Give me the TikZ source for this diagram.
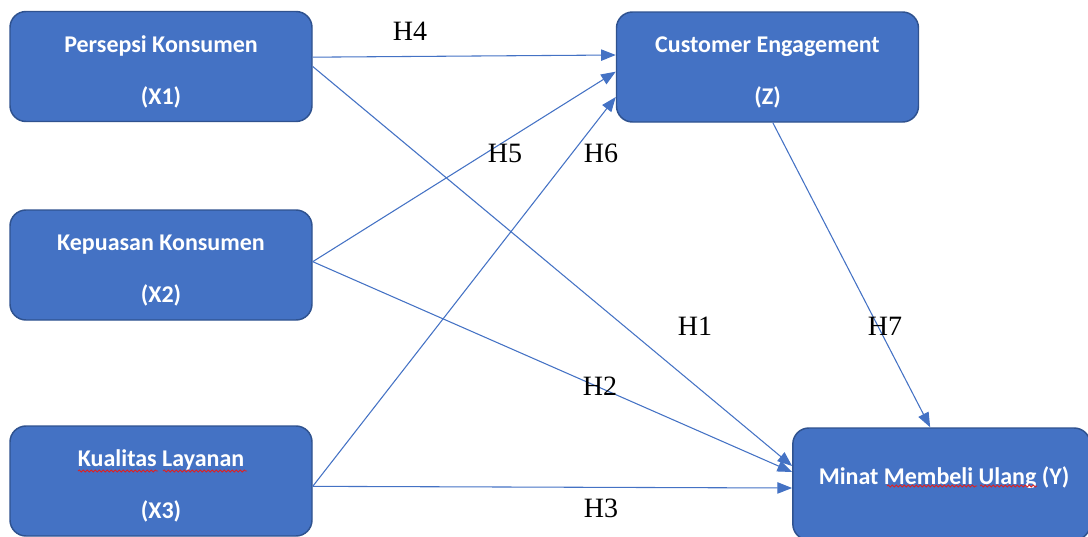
\documentclass[tikz,border=0pt]{standalone}
\usepackage{fontspec}
\setmainfont{Liberation Serif}
\newfontfamily\boxfont{Carlito}
\usetikzlibrary{arrows.meta,decorations.pathmorphing}
\definecolor{boxfill}{HTML}{4472C4}
\definecolor{boxline}{HTML}{2F528F}
\definecolor{arrowcol}{HTML}{4472C4}
\definecolor{spell}{HTML}{E02020}
\newcommand{\topstrut}{\rule{0pt}{20pt}}
\begin{document}
\begin{tikzpicture}[x=0.75pt,y=-0.75pt,
  varbox/.style={draw=boxline, line width=1.1pt, fill=boxfill, rounded corners=12pt,
    minimum width=226.5pt, minimum height=82.5pt, inner sep=0pt, text=white,
    font=\boxfont\bfseries\fontsize{18}{39}\selectfont, align=center},
  boxtext/.style={text=white, font=\boxfont\bfseries\fontsize{18}{21}\selectfont, inner sep=0pt},
  hyp/.style={font=\fontsize{21}{25}\selectfont, inner sep=0pt, text=black},
  link/.style={draw=arrowcol, line width=0.8pt, -{Triangle[length=11pt,width=8.5pt]}},
  spellmark/.style={draw=spell, line width=0.6pt, decorate,
    decoration={snake, segment length=3pt, amplitude=0.8pt}}]
\useasboundingbox (0,0) rectangle (1088,536);
\clip (0,0) rectangle (1088,536);

% boxes
\node[varbox] (x1) at (161,66.5) {\topstrut Persepsi Konsumen\\(X1)};
\node[varbox] (z) at (767.5,67) {\topstrut Customer Engagement\\(Z)};
\node[varbox] (x2) at (161,265) {\topstrut Kepuasan Konsumen\\(X2)};
\node[varbox] (x3) at (161,481) {\topstrut Kualitas Layanan\\(X3)};
\node[varbox, minimum width=223pt, minimum height=84pt] (y) at (941.5,484) {};
\node[boxtext] (ytext) at (944,478) {Minat Membeli Ulang (Y)};

% spell-check marks
\draw[spellmark] (78,471) -- (158,471);
\draw[spellmark] (163,471) -- (247,471);
\draw[spellmark] (887,486) -- (977,486);
\draw[spellmark] (980,486) -- (1037,486);

% connectors
\draw[link] ([yshift=7pt]x1.east) -- ([yshift=9pt]z.west);        % H4
\draw[link] (x1.east) -- ([yshift=13.5pt]y.west);                   % H1
\draw[link] ([yshift=2.5pt]x2.east) -- ([yshift=-3.5pt]z.west);     % H5
\draw[link] ([yshift=2.5pt]x2.east) -- ([yshift=9pt]y.west);        % H2
\draw[link] ([yshift=-4pt]x3.east) -- ([yshift=-22.5pt]z.west);     % H6
\draw[link] ([yshift=-4pt]x3.east) -- ([yshift=-3pt]y.west);        % H3
\draw[link] ([xshift=4pt]z.south) -- ([xshift=-8.5pt]y.north);      % H7

% hypothesis labels
\node[hyp] (h4) at (410,31) {H4};
\node[hyp] (h5) at (505,153) {H5};
\node[hyp] (h6) at (601,153) {H6};
\node[hyp] (h1) at (695,326) {H1};
\node[hyp] (h7) at (885,326) {H7};
\node[hyp] (h2) at (600,386) {H2};
\node[hyp] (h3) at (601,508) {H3};
\end{tikzpicture}
\end{document}
